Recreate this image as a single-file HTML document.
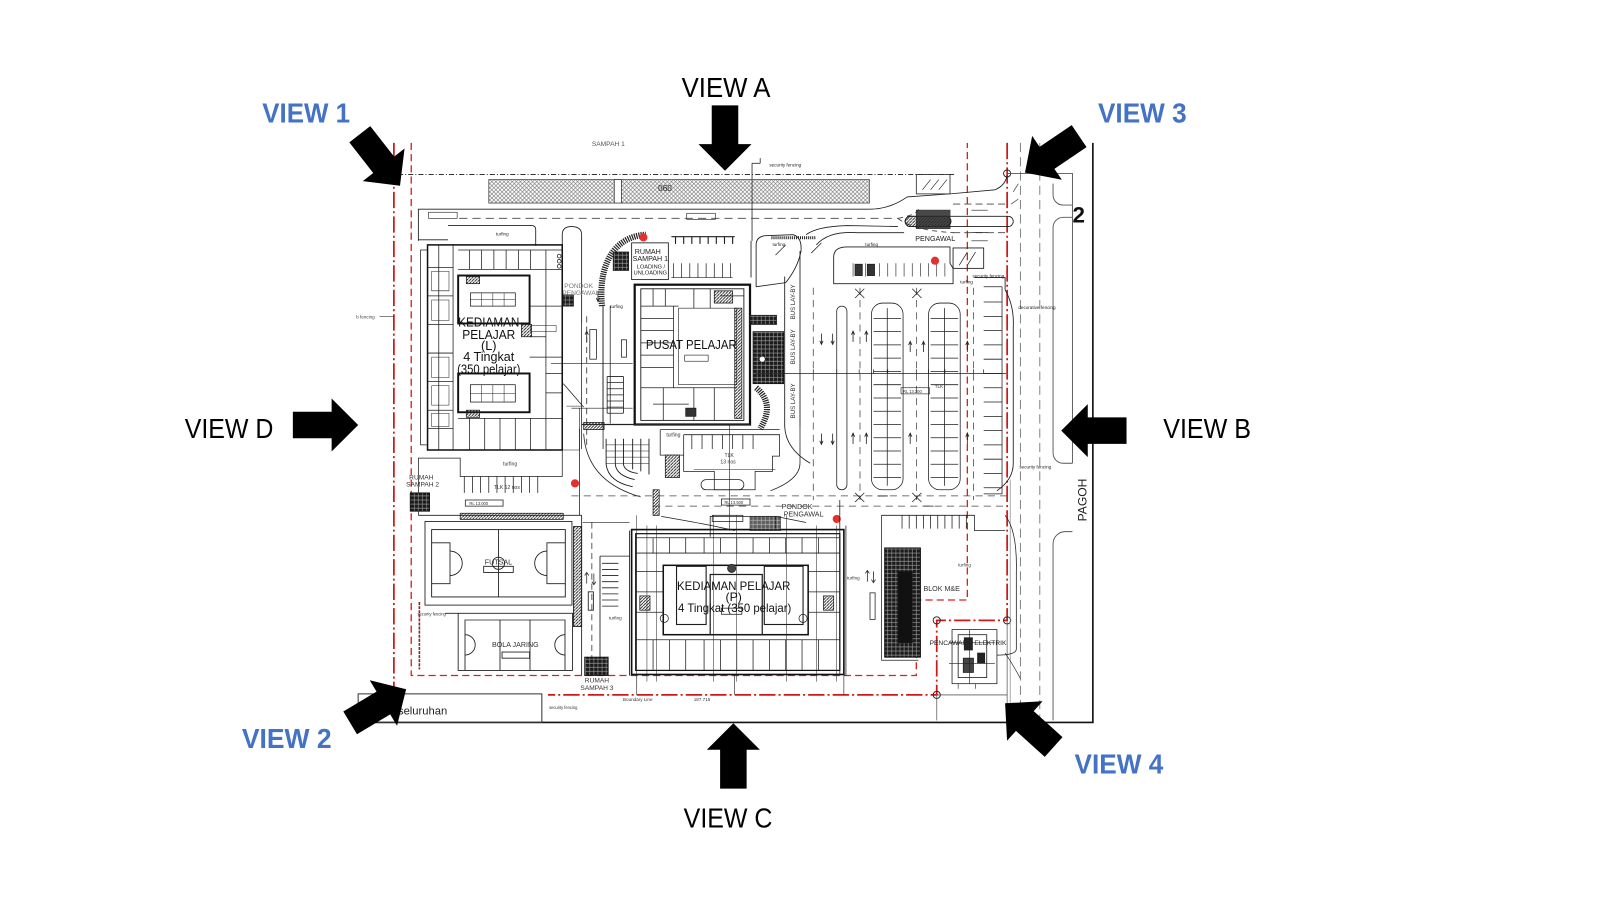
<!DOCTYPE html>
<html><head><meta charset="utf-8">
<style>html,body{margin:0;padding:0;background:#fff;width:1600px;height:900px;overflow:hidden}svg{display:block}</style></head>
<body>
<svg width="1600" height="900" viewBox="0 0 1568 882" xmlns="http://www.w3.org/2000/svg" font-family="'Liberation Sans', Arial, sans-serif">
<defs>
<pattern id="xh" width="4" height="4" patternUnits="userSpaceOnUse"><path d="M0,0L4,4M4,0L0,4" stroke="#777" stroke-width="0.6"/></pattern>
<pattern id="dg" width="4" height="4" patternUnits="userSpaceOnUse"><rect width="4" height="4" fill="#1a1a1a"/><path d="M0,2H4M2,0V4" stroke="#999" stroke-width="0.6"/></pattern>
<pattern id="hs" width="3" height="3" patternUnits="userSpaceOnUse"><path d="M0,3L3,0" stroke="#222" stroke-width="0.9"/></pattern>
<path id="la" d="M0,-5V5M-1.6,-2L0,-5.5L1.6,-2" fill="none" stroke="#222" stroke-width="0.8"/>
</defs>
<rect width="1568" height="882" fill="#fff"/>

<!-- ===== BOUNDARIES ===== -->
<g fill="none">
<path d="M390,171H935" stroke="#333" stroke-width="1" stroke-dasharray="5,2,1,2"/>
<path d="M386,140V690" stroke="#d01818" stroke-width="1.7" stroke-dasharray="16,3,2,3"/>
<path d="M403,140V662H898V588H948V140" stroke="#d82020" stroke-width="1.3" stroke-dasharray="7,4"/>
<path d="M987,140V608H918V681H537" stroke="#d01818" stroke-width="1.7" stroke-dasharray="16,3,2,3"/>
<path d="M351,708H1071V140" stroke="#111" stroke-width="1.6"/>
<rect x="351" y="680" width="180" height="28" stroke="#333" stroke-width="1"/>
<path d="M918,681V706M987,608V706" stroke="#666" stroke-width="0.8"/>
<circle cx="918" cy="608" r="3.5" stroke="#222" stroke-width="0.9"/>
<circle cx="987" cy="608" r="3.5" stroke="#222" stroke-width="0.9"/>
<circle cx="918" cy="681" r="3.5" stroke="#222" stroke-width="0.9"/>
<circle cx="987" cy="170" r="3.5" stroke="#222" stroke-width="0.9"/>
<path d="M1000,140V706M1019,140V706" stroke="#777" stroke-width="0.9" stroke-dasharray="9,5"/>
<path d="M990,470V706" stroke="#888" stroke-width="0.7"/>
<path d="M987,170H1051V454" stroke="#555" stroke-width="0.9"/>
<path d="M1051,201H1042A10,10 0 0 1 1032,191V180" stroke="#555" stroke-width="0.9"/>
<path d="M1051,213H1042A10,10 0 0 0 1032,223V444A10,10 0 0 0 1042,454H1051" stroke="#555" stroke-width="0.9"/>
<path d="M1051,521H1044A12,12 0 0 0 1032,533V706" stroke="#555" stroke-width="0.9"/>
<path d="M993,188L998,180M991,200L998,195" stroke="#444" stroke-width="0.7"/>
</g>
<text x="1051" y="218" font-size="22" font-weight="bold" fill="#111">2</text>
<text transform="translate(1065,511) rotate(-90)" font-size="12" fill="#222" textLength="42" lengthAdjust="spacingAndGlyphs">PAGOH</text>
<text x="390" y="700" font-size="11" fill="#222">seluruhan</text>
<text x="580" y="143" font-size="6.5" fill="#555">SAMPAH 1</text>
<text x="349" y="312" font-size="4.5" fill="#444">b fencing</text>
<path d="M372,310H386" stroke="#333" stroke-width="0.6"/>

<!-- ===== TOP STRIP & ROAD ===== -->
<g fill="none" stroke="#1e1e1e" stroke-width="0.85">
<rect x="479" y="176" width="373" height="23" fill="url(#xh)" stroke="#555"/>
<rect x="602" y="176" width="7" height="23" fill="#fff" stroke="#444"/>
<path d="M737,160V236M737,160H745M745,160V155" stroke="#333"/>
<path d="M410,236V205H852Q872,205 889,193L931,190L975,186Q985,182 987,172"/>
<rect x="898" y="171" width="33" height="19" stroke="#333"/>
<path d="M904,186L912,176M912,186L920,176M920,186L928,176" stroke-width="0.6"/>
<path d="M450,214H880" stroke="#444" stroke-dasharray="8,5"/>
<path d="M934,200H985M934,228H985" stroke="#444" stroke-dasharray="7,4"/>
<path d="M880,214Q900,210 900,205M880,214Q895,226 935,228" stroke="#444" stroke-dasharray="5,4"/>
<rect x="420" y="208" width="28" height="6" stroke-width="0.6"/>
<rect x="673" y="209" width="28" height="6" stroke-width="0.6"/>
<path d="M410,235H439M439,221H521Q525,221 525,225V241"/>
<path d="M551,316V230Q551,222 560,222Q570,222 570,230V316"/>
<path d="M591,414V300" />
<path d="M590,300C586,262 600,232 633,230" stroke="#222" stroke-width="6" stroke-dasharray="1.2,1"/>
<rect x="619" y="238" width="36" height="36"/>
<rect x="601" y="247" width="15" height="18" fill="url(#dg)"/>
<path d="M660,258V272M668,258V272M676,258V272M684,258V272M692,258V272M700,258V272M708,258V272M716,258V272M658,272H718" stroke-width="0.7"/>
<path d="M658,232H720M662,232V239M670,232V239M678,232V239M686,232V239M694,232V239M702,232V239M710,232V239M718,232V239" stroke-width="1.1"/>
<path d="M736,236V272M741,281V240Q741,232 750,231L777,230Q786,232 785,246Q782,262 770,277L741,281"/>
<path d="M769,271V418Q770,440 794,454M784,246V418"/>
<path d="M756,233H800" stroke="#222" stroke-width="3" stroke-dasharray="1,1"/>
<path d="M790,230Q800,222 830,221L880,222M800,240Q812,226 840,228H886"/>
<path d="M817,277V252Q817,242 830,242H931V258L934,263V278H817Z"/>
<path d="M836,258V271M848,258V271M862,258V271M870,258V271M878,258V271M886,258V271M894,258V271M902,258V271M910,258V271M918,258V271M926,258V271" stroke-width="0.6"/>
<rect x="838" y="259" width="7" height="11" fill="#333"/>
<rect x="850" y="259" width="7" height="11" fill="#333"/>
<rect x="887" y="212" width="106" height="10" rx="5" stroke-width="0.8"/>
<rect x="887" y="212" width="45" height="10" rx="5" fill="url(#hs)"/>
<rect x="898" y="206" width="33" height="18" fill="#2a2a2a" opacity="0.85"/>
<rect x="934" y="243" width="30" height="20"/>
<path d="M940,260L948,247M948,260L956,247" stroke-width="0.7"/>
<path d="M952,236H968M952,228H968M952,206H968" stroke-width="0.7"/>
<path d="M955,272H985V284M985,284Q994,300 993,320V454Q993,470 977,481"/>
<path d="M760,250L770,240M795,248L805,238" stroke-width="0.7"/>
</g>
<circle cx="630.5" cy="232.6" r="4" fill="#e53030"/>
<circle cx="916.3" cy="255.5" r="4" fill="#e53030"/>
<circle cx="563.5" cy="473.7" r="4" fill="#e53030"/>
<circle cx="820" cy="508.6" r="4" fill="#e53030"/>
<g font-size="8" fill="#222">
<text x="645" y="187">060</text>
<text x="622" y="249" font-size="7">RUMAH</text>
<text x="620" y="256" font-size="7">SAMPAH 1</text>
<text x="624" y="263" font-size="5.5">LOADING /</text>
<text x="621" y="269" font-size="5.5">UNLOADING</text>
<text x="897" y="236" font-size="7">PENGAWAL</text>
<text x="553" y="282" font-size="6.5" fill="#777">PONDOK</text>
<text x="551" y="289" font-size="6.5" fill="#777">PENGAWAL</text>
<text x="754" y="163" font-size="4.5">security fencing</text>
<text x="486" y="231" font-size="4.5">turfing</text>
<text x="757" y="241" font-size="4.5">turfing</text>
<text x="848" y="241" font-size="4.5">turfing</text>
<text x="941" y="278" font-size="4.5">turfing</text>
<text x="598" y="302" font-size="4.5">turfing</text>
<text x="953" y="272" font-size="4.5">security fencing</text>
<text x="998" y="303" font-size="4.5">decorative fencing</text>
<text x="999" y="459" font-size="4.5">security fencing</text>
</g>

<!-- ===== KEDIAMAN L ===== -->
<g fill="none" stroke="#1e1e1e" stroke-width="0.75">
<rect x="419" y="240" width="132" height="201" stroke-width="1.5" stroke="#111"/>
<path d="M412,245V436M412,245H419M412,436H419M430,240V441M444,240V441"/>
<path d="M419,262H444M419,290H444M419,318H444M419,346H444M419,374H444M419,402H444M419,420H444"/>
<path d="M423,266H440V285H423ZM423,378H440V397H423ZM423,294H440V314H423ZM423,350H440V370H423ZM423,405H440V418H423Z" stroke-width="0.5"/>
<path d="M449,245H551M449,264H551M460,245V264M472,245V264M484,245V264M496,245V264M508,245V264M520,245V264M535,245V441"/>
<rect x="449" y="270" width="70" height="47" stroke-width="1.9" stroke="#111"/>
<rect x="461" y="287" width="44" height="13"/>
<path d="M472,287V300M483,287V300M494,287V300M461,293.5H505" stroke-width="0.5"/>
<rect x="449" y="366" width="70" height="38" stroke-width="1.9" stroke="#111"/>
<rect x="461" y="377" width="44" height="17"/>
<path d="M472,377V394M483,377V394M494,377V394M461,385.5H505" stroke-width="0.5"/>
<path d="M449,410H551M460,410V441M475,410V441M490,410V441M505,410V441M520,410V441"/>
<path d="M519,300H551M519,330H535M519,350H551M535,366H551M535,385H551"/>
<rect x="457" y="271" width="13" height="7" fill="url(#hs)"/>
<rect x="457" y="402" width="13" height="7" fill="url(#hs)"/>
<rect x="511" y="318" width="10" height="12" fill="url(#hs)"/>
<circle cx="548" cy="251" r="1.8"/><circle cx="548" cy="256" r="1.8"/><circle cx="548" cy="261" r="1.8"/>
<rect x="520" y="319" width="25" height="6" stroke-width="0.5"/>
<path d="M575,310V440" stroke-dasharray="6,4"/>
<path d="M570,316V440M591,300V440M598,300V415"/>
<path d="M552,376L572,399"/>
<rect x="578" y="323" width="6.5" height="29"/>
<rect x="609" y="333" width="5" height="17"/>
<rect x="552" y="289" width="10" height="11" fill="url(#dg)"/>
<path d="M595,369H611M595,375H611M595,381H611M595,387H611M595,393H611M595,399H611M595,405H611M595,369V405M611,369V405" stroke-width="0.8"/>
<path d="M540,356H620M560,400H620M555,398H570" stroke-width="0.6"/>
<rect x="572" y="414" width="20" height="7" fill="url(#hs)"/>
<path d="M551,400V441H568V400" stroke-width="0.6"/>
</g>
<use href="#la" x="575" y="330"/>
<use href="#la" x="586" y="290" transform="rotate(180,586,290)"/>
<g fill="#111" font-size="12.5" text-anchor="middle">
<text x="479" y="320" textLength="60" lengthAdjust="spacingAndGlyphs">KEDIAMAN</text>
<text x="479" y="332" textLength="52" lengthAdjust="spacingAndGlyphs">PELAJAR</text>
<text x="479" y="343">(L)</text>
<text x="479" y="354" textLength="50" lengthAdjust="spacingAndGlyphs">4 Tingkat</text>
<text x="479" y="366" textLength="62" lengthAdjust="spacingAndGlyphs">(350 pelajar)</text>
</g>

<!-- ===== PUSAT PELAJAR ===== -->
<g fill="none" stroke="#1e1e1e" stroke-width="0.75">
<rect x="622" y="279" width="113" height="137" stroke-width="2.2" stroke="#111"/>
<rect x="628" y="283" width="101" height="129" stroke-width="0.9"/>
<rect x="665" y="302" width="57" height="75" stroke-width="0.6"/>
<path d="M628,300H665M628,312H660M628,324H660M628,336H660M628,348H660M628,360H660M660,300V380M640,283V300M652,283V300M680,283V302M696,283V302M706,290H729"/>
<rect x="720" y="302" width="7" height="108" fill="url(#hs)"/>
<path d="M628,380H722M680,380V412M700,380V412M650,380V412M640,396H675" />
<rect x="672" y="400" width="10" height="8" fill="#333"/>
<rect x="700" y="285" width="18" height="12" fill="url(#hs)"/>
<rect x="671" y="348" width="23" height="6" stroke-width="0.6"/>
<rect x="738" y="325" width="30" height="51" fill="url(#dg)" stroke="#111"/>
<rect x="735" y="309" width="26" height="9" fill="url(#dg)"/>
<circle cx="747" cy="352" r="3" fill="#fff" stroke="#222"/>
<path d="M741,380Q760,396 745,420" stroke="#222" stroke-width="6" stroke-dasharray="1.2,1"/>
<path d="M735,416H570" stroke="#222" stroke-width="1.2"/>
<path d="M741,366H986" stroke-width="0.7"/>
<path d="M755,366V362M797,366V362M820,366V362M842,366V362M856,366V362M870,366V362M898,366V362M910,366V362M926,366V362M954,366V362M964,366V362" stroke-width="0.7"/>
</g>
<text x="633" y="342" font-size="12.5" fill="#111" textLength="89" lengthAdjust="spacingAndGlyphs">PUSAT PELAJAR</text>
<g font-size="6" fill="#333">
<text transform="translate(779,313) rotate(-90)">BUS LAY-BY</text>
<text transform="translate(779,357) rotate(-90)">BUS LAY-BY</text>
<text transform="translate(779,410) rotate(-90)">BUS LAY-BY</text>
</g>

<!-- ===== CARPARK ===== -->
<g fill="none" stroke="#1e1e1e" stroke-width="0.75">
<path d="M797,282V490M842.8,282V490M898.3,282V490M954,282V490" stroke-dasharray="7,5" stroke="#444"/>
<rect x="820" y="300" width="10" height="180" rx="5"/>
<rect x="854" y="297" width="31" height="183" rx="11"/>
<rect x="910" y="297" width="31" height="183" rx="11"/>
<path d="M869.5,302V476M925.5,302V476"/>
<path d="M856,312H883M856,325H883M856,338H883M856,351H883M856,364H883M856,377H883M856,390H883M856,403H883M856,416H883M856,429H883M856,442H883M856,455H883M856,468H883"/>
<path d="M912,312H939M912,325H939M912,338H939M912,351H939M912,364H939M912,377H939M912,390H939M912,403H939M912,416H939M912,429H939M912,442H939M912,455H939M912,468H939"/>
<path d="M982,281V484H964M964,296H982M964,310H982M964,324H982M964,338H982M964,352H982M964,366H982M964,380H982M964,394H982M964,408H982M964,422H982M964,436H982M964,450H982M964,464H982M964,478H982"/>
<path d="M964,281H982" />
<path d="M838,283L847,292M847,283L838,292M894,283L903,292M903,283L894,292M838,483L847,492M847,483L838,492M894,483L903,492M903,483L894,492"/>
<rect x="883" y="380" width="28" height="6" stroke-width="0.6"/>
</g>
<use href="#la" x="805" y="332" transform="rotate(180,805,332)"/>
<use href="#la" x="816" y="332" transform="rotate(180,816,332)"/>
<use href="#la" x="836" y="330"/>
<use href="#la" x="849" y="330"/>
<use href="#la" x="892" y="340"/>
<use href="#la" x="905" y="340"/>
<use href="#la" x="948" y="340"/>
<use href="#la" x="805" y="430" transform="rotate(180,805,430)"/>
<use href="#la" x="816" y="430" transform="rotate(180,816,430)"/>
<use href="#la" x="836" y="430"/>
<use href="#la" x="849" y="430"/>
<use href="#la" x="892" y="430"/>
<use href="#la" x="948" y="430"/>
<text x="885" y="385" font-size="4" fill="#333">RL 13.200</text>
<text x="916" y="380" font-size="4.5" fill="#333">TLK</text>

<!-- ===== LOWER MIDDLE ===== -->
<g fill="none" stroke="#1e1e1e" stroke-width="0.75">
<path d="M560,486H990" stroke="#444" stroke-dasharray="7,5"/>
<path d="M640,496H985" stroke="#444" stroke-dasharray="7,5"/>
<path d="M410,505H570" stroke-width="0.8"/>
<path d="M410,505V449H451V467H551V449M551,416V467M568,420V505" />
<path d="M455,467V483M463,467V483M471,467V483M479,467V483M487,467V483M495,467V483M503,467V483M511,467V483M519,467V483M527,467V483"/>
<rect x="451" y="503" width="101" height="6" fill="url(#hs)"/>
<rect x="456" y="490" width="37" height="6"/>
<rect x="402" y="483" width="19" height="18" fill="url(#dg)" stroke="#111"/>
<path d="M572,425Q575,472 628,487"/>
<path d="M594,430V455Q596,472 620,477M603,430V455Q604,466 622,470M611,430V455Q612,462 625,464M620,430V460M628,430V462M636,430V465" stroke-width="0.9"/>
<path d="M594,436H636M594,442H636M594,448H636M594,454H636" stroke-width="0.5"/>
<path d="M647,421H764M647,421V446H670M670,426H764V447H757V462H740V480H700V462H670V426"/>
<rect x="652" y="446" width="14" height="22" fill="url(#hs)"/>
<path d="M678,426V440M688,426V440M698,426V440M708,426V440M718,426V440M728,426V440M738,426V440"/>
<rect x="687" y="470" width="42" height="10" rx="5"/>
<path d="M784,418V454Q784,470 755,481" />
<path d="M640,480H646V505H640Z" fill="url(#hs)"/>
<rect x="707" y="489" width="28" height="6"/>
<path d="M715,416V520" stroke-width="0.6"/>
<path d="M648,506Q700,515 720,520" />
<path d="M680,460H760" stroke-width="0.5"/>
<path d="M860,486L870,486M905,496L915,496" stroke-width="0.8"/>
</g>
<g font-size="5" fill="#333">
<text x="710" y="448">TLK</text>
<text x="706" y="454">13 nos</text>
<text x="484" y="479">TLK 12 nos</text>
<text x="493" y="456">turfing</text>
<text x="653" y="428">turfing</text>
<text x="401" y="470" font-size="6.5">RUMAH</text>
<text x="398" y="477" font-size="6.5">SAMPAH 2</text>
<text x="460" y="495" font-size="4">RL 13.000</text>
<text x="710" y="494" font-size="4">RL 13.500</text>
<text x="766" y="499" font-size="7">PONDOK</text>
<text x="768" y="506" font-size="7">PENGAWAL</text>
</g>

<!-- ===== FUTSAL & BOLA JARING ===== -->
<g fill="none" stroke="#1e1e1e" stroke-width="0.85">
<rect x="416.5" y="511" width="144" height="82"/>
<rect x="423" y="519" width="131" height="66" stroke-width="0.9"/>
<path d="M488.5,519V585M423,532H441V572H423M554,532H536V572H554"/>
<path d="M441,540A12,12 0 0 1 441,564M536,540A12,12 0 0 0 536,564"/>
<circle cx="488.5" cy="552" r="6"/>
<rect x="474" y="555" width="29" height="6"/>
<rect x="562" y="516" width="8" height="98" fill="url(#hs)"/>
<path d="M436,601H449V657H561V601H449M455.7,607.6H553.7V657H455.7Z"/>
<path d="M490,607.6V657M519.4,607.6V657M455.7,622A10,10 0 0 1 455.7,642M553.7,622A10,10 0 0 0 553.7,642"/>
<rect x="492" y="639" width="27" height="6"/>
<path d="M411,590V656" stroke="#8a2a2a" stroke-width="1.6" stroke-dasharray="3,1"/>
<path d="M580,512V662" stroke="#444" stroke-dasharray="6,4"/>
<path d="M570,505V662M588,545V645M617,520V662M588,545H617"/>
<path d="M590,552H606M590,558H606M590,564H606M590,570H606M590,576H606M590,582H606M590,588H606M590,594H606"/>
<rect x="576.5" y="580" width="5" height="18"/>
<path d="M575,572V562M573,564L575,561L577,564M582,562V572M580,570L582,573L584,570" stroke-width="0.7"/>
<rect x="573" y="644" width="23" height="18" fill="url(#dg)" stroke="#111"/>
<path d="M571,512H617" stroke-width="0.6"/>
</g>
<g font-size="6.5" fill="#333" text-anchor="middle">
<text x="488.5" y="553" font-size="7">FUTSAL</text>
<text x="505" y="634" font-size="7">BOLA JARING</text>
<text x="585" y="669">RUMAH</text>
<text x="585" y="676">SAMPAH 3</text>
<text x="423" y="603" font-size="4">security fencing</text>
<text x="552" y="695" font-size="4">security fencing</text>
<text x="625" y="687" font-size="4.5">Boundary Line</text>
<text x="688" y="687" font-size="4.5">187.715</text>
<text x="603" y="607" font-size="4.5">turfing</text>
</g>

<!-- ===== KEDIAMAN P ===== -->
<g fill="none" stroke="#1e1e1e" stroke-width="0.75">
<rect x="619" y="519" width="208" height="142" stroke-width="1.6" stroke="#111"/>
<rect x="623" y="523" width="200" height="134" stroke-width="1.2" stroke="#111"/>
<path d="M623,527H823M623,542H823M640,527V542M656,527V542M672,527V542M690,527V542M706,527V542M722,527V542M738,527V542M754,527V542M770,527V542M786,527V542M802,527V542"/>
<rect x="650" y="554" width="142" height="68" stroke-width="1.5" stroke="#111"/>
<rect x="696" y="563" width="51" height="59" stroke-width="1.2"/>
<rect x="663" y="555" width="29" height="57" stroke-width="1.1"/>
<rect x="749" y="555" width="38" height="57" stroke-width="1.1"/>
<path d="M623,627H823M640,627V657M656,627V657M672,627V657M690,627V657M706,627V657M722,627V657M738,627V657M754,627V657M770,627V657M786,627V657M802,627V657"/>
<path d="M624,505V668M634,515V668M643.5,515V668M699,505V668M722,505V668M771,505V668M800,515V668M820,515V668" stroke-width="0.5"/>
<path d="M623,560H650M623,580H650M623,600H650M792,560H823M792,580H823M792,600H823"/>
<rect x="627" y="584" width="10" height="14" fill="url(#hs)"/>
<rect x="807" y="584" width="10" height="14" fill="url(#hs)"/>
<circle cx="651" cy="606" r="4"/>
<circle cx="787" cy="606" r="4"/>
<circle cx="717" cy="557" r="4" fill="#444"/>
<rect x="707" y="596" width="20" height="6"/>
<path d="M696,526V506H760V519M760,506L790,512" />
<rect x="735" y="506" width="30" height="14" fill="url(#dg)" opacity="0.7"/>
<rect x="698" y="505" width="30" height="6"/>
<path d="M624,662V681M720,662V681M827,662V681" stroke-width="0.6"/>
<path d="M823,490V662M829,515V662" />
</g>
<g fill="#111" text-anchor="middle">
<text x="719" y="578" font-size="12" textLength="111" lengthAdjust="spacingAndGlyphs">KEDIAMAN PELAJAR</text>
<text x="719" y="589" font-size="12">(P)</text>
<text x="720" y="600" font-size="12" textLength="111" lengthAdjust="spacingAndGlyphs">4 Tingkat (350 pelajar)</text>
</g>

<!-- ===== M&E / PENCAWANG ===== -->
<g fill="none" stroke="#1e1e1e" stroke-width="0.75">
<path d="M864,520V505H955V520M864,505V647H900M955,505V520H985"/>
<path d="M884,505V518M891,505V518M898,505V518M905,505V518M912,505V518M919,505V518M926,505V518M933,505V518M940,505V518M947,505V518" />
<rect x="867" y="537" width="35" height="107" fill="url(#dg)" stroke="#111" stroke-width="1"/>
<rect x="880" y="560" width="14" height="70" fill="#111"/>
<rect x="852.6" y="581" width="5" height="26"/>
<path d="M850,560V570M848,562L850,559L852,562M856,560V570M854,568L856,571L858,568"/>
<path d="M985,505Q997,520 996,560V636Q996,642 977,642"/>
<rect x="933" y="617" width="44" height="53"/>
<rect x="939" y="622" width="28" height="42" stroke-width="0.8"/>
<rect x="945" y="625" width="8" height="12" fill="#222"/>
<rect x="958" y="640" width="7" height="10" fill="#222"/>
<rect x="944" y="645" width="10" height="14" fill="#444"/>
<path d="M930,630H975M930,650H975M950,617V670M939,675V670M956,675V670" stroke-width="0.6"/>
<path d="M985,640Q992,650 1000,665M918,681H987" stroke-width="0.6"/>
</g>
<text x="905" y="579" font-size="7" fill="#333">BLOK M&amp;E</text>
<text x="911" y="632" font-size="6.5" fill="#222">PENCAWANG ELEKTRIK</text>
<text x="939" y="555" font-size="4.5" fill="#333">turfing</text>
<text x="830" y="568" font-size="4.5" fill="#333">turfing</text>

<!-- ===== ARROWS ===== -->
<g fill="#000">
<path transform="translate(710.5,167.3) rotate(90)" d="M0,0L-26,-26L-26,-13L-64,-13L-64,13L-26,13L-26,26Z"/>
<path transform="translate(718.7,708.8) rotate(-90)" d="M0,0L-26,-26L-26,-13L-64,-13L-64,13L-26,13L-26,26Z"/>
<path transform="translate(351,416.5) rotate(0)" d="M0,0L-26,-26L-26,-13L-64,-13L-64,13L-26,13L-26,26Z"/>
<path transform="translate(1040,422) rotate(180)" d="M0,0L-26,-26L-26,-13L-64,-13L-64,13L-26,13L-26,26Z"/>
<path transform="translate(392,182) rotate(52)" d="M0,0L-26,-26L-26,-13L-64,-13L-64,13L-26,13L-26,26Z"/>
<path transform="translate(1004.5,169.2) rotate(146)" d="M0,0L-26,-26L-26,-13L-64,-13L-64,13L-26,13L-26,26Z"/>
<path transform="translate(398,675.5) rotate(-31)" d="M0,0L-26,-26L-26,-13L-64,-13L-64,13L-26,13L-26,26Z"/>
<path transform="translate(985,689.2) rotate(-138)" d="M0,0L-26,-26L-26,-13L-64,-13L-64,13L-26,13L-26,26Z"/>
</g>

<!-- ===== VIEW LABELS ===== -->
<g font-size="27" fill="#000">
<text x="668" y="95" textLength="87" lengthAdjust="spacingAndGlyphs">VIEW A</text>
<text x="670" y="811" textLength="87" lengthAdjust="spacingAndGlyphs">VIEW C</text>
<text x="181" y="429" textLength="87" lengthAdjust="spacingAndGlyphs">VIEW D</text>
<text x="1140" y="429" textLength="86" lengthAdjust="spacingAndGlyphs">VIEW B</text>
</g>
<g font-size="27" font-weight="bold" fill="#4472C4">
<text x="257" y="120" textLength="86" lengthAdjust="spacingAndGlyphs">VIEW 1</text>
<text x="1076" y="120" textLength="87" lengthAdjust="spacingAndGlyphs">VIEW 3</text>
<text x="237" y="733" textLength="88" lengthAdjust="spacingAndGlyphs">VIEW 2</text>
<text x="1053" y="758" textLength="87" lengthAdjust="spacingAndGlyphs">VIEW 4</text>
</g>
</svg>
</body></html>
